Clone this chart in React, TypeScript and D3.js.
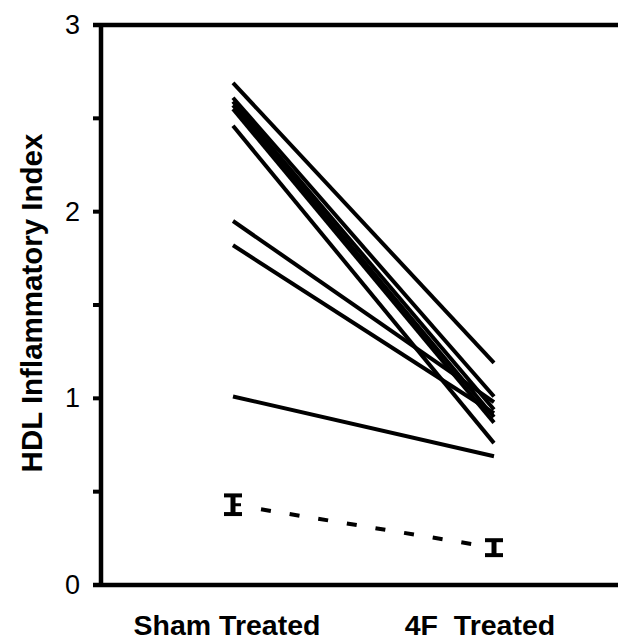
import React from "react";
import * as d3 from "d3";

// Paired HDL inflammatory index per subject: sham vs 4F treatment
const groups = ["Sham Treated", "4F  Treated"];
const shamValues = [2.69, 2.61, 2.59, 2.57, 2.55, 2.46, 1.95, 1.82, 1.01];
const treatedValues = [1.19, 1.01, 0.94, 0.9, 0.87, 0.76, 0.98, 0.92, 0.69];

// Group means with error (SEM)
const meanValues = [0.43, 0.2];
const errorValues = [0.05, 0.04];

const yTickLabels = [0, 1, 2, 3];
const yMinorTicks = [0, 0.5, 1, 1.5, 2, 2.5, 3];

const W = 618;
const H = 641;
const axisX = 101;
const FONT = "'Liberation Sans', Arial, Helvetica, sans-serif";

export default function App() {
  const y = d3.scaleLinear().domain([0, 3]).range([585, 25]);
  const x = d3.scalePoint<string>().domain(groups).range([233, 494]);

  const line = d3
    .line<[string, number]>()
    .x((d) => x(d[0]) as number)
    .y((d) => y(d[1]));

  const pairs = shamValues.map((s, i) => [
    [groups[0], s],
    [groups[1], treatedValues[i]],
  ] as [string, number][]);

  // dashed line between means, kept clear of the error bars
  const x0 = x(groups[0]) as number;
  const x1 = x(groups[1]) as number;
  const t0 = 28 / (x1 - x0);
  const t1 = 1 - 21 / (x1 - x0);
  const interp = d3.interpolateNumber(y(meanValues[0]), y(meanValues[1]));
  const xi = d3.interpolateNumber(x0, x1);

  return (
    <svg
      width={W}
      height={H}
      style={{ position: "absolute", left: 0, top: 0, background: "#fff" }}
    >
      {/* frame */}
      <line x1={93} x2={W} y1={y(3)} y2={y(3)} stroke="#000" strokeWidth={4.5} />
      <line x1={93} x2={W} y1={y(0)} y2={y(0)} stroke="#000" strokeWidth={4.5} />
      <line x1={axisX} x2={axisX} y1={y(3)} y2={y(0)} stroke="#000" strokeWidth={4.5} />
      {yMinorTicks.map((t) => (
        <line key={t} x1={93} x2={axisX} y1={y(t)} y2={y(t)} stroke="#000" strokeWidth={4} />
      ))}
      {yTickLabels.map((t) => (
        <text
          key={t}
          x={80}
          y={y(t)}
          textAnchor="end"
          dominantBaseline="central"
          fontFamily={FONT}
          fontSize={27}
          fill="#000"
        >
          {t}
        </text>
      ))}
      <text
        transform={`translate(31,${y(1.5) - 2}) rotate(-90)`}
        textAnchor="middle"
        dominantBaseline="central"
        fontFamily={FONT}
        fontWeight="bold"
        fontSize={29.5}
        fill="#000"
      >
        HDL Inflammatory Index
      </text>
      {groups.map((g, i) => (
        <text
          key={g}
          x={(x(g) as number) - (i === 0 ? 6 : 14)}
          y={635}
          textAnchor="middle"
          fontFamily={FONT}
          fontWeight="bold"
          fontSize={28.5}
          fill="#000"
          style={{ whiteSpace: "pre" }}
        >
          {g}
        </text>
      ))}

      {/* individual subjects */}
      {pairs.map((p, i) => (
        <path key={i} d={line(p) || ""} fill="none" stroke="#000" strokeWidth={4} />
      ))}

      {/* mean trend */}
      <line
        x1={xi(t0)}
        y1={interp(t0)}
        x2={xi(t1)}
        y2={interp(t1)}
        stroke="#000"
        strokeWidth={4}
        strokeDasharray="10 19"
      />
      {groups.map((g, i) => {
        const cx = x(g) as number;
        const top = y(meanValues[i] + errorValues[i]);
        const bot = y(meanValues[i] - errorValues[i]);
        return (
          <g key={g}>
            <line x1={cx} x2={cx} y1={top} y2={bot} stroke="#000" strokeWidth={5} />
            <line x1={cx - 9} x2={cx + 9} y1={top} y2={top} stroke="#000" strokeWidth={4} />
            <line x1={cx - 9} x2={cx + 9} y1={bot} y2={bot} stroke="#000" strokeWidth={4} />
            {i === 0 && (
              <line
                x1={cx}
                x2={cx + 8}
                y1={y(meanValues[i])}
                y2={y(meanValues[i])}
                stroke="#000"
                strokeWidth={3}
              />
            )}
          </g>
        );
      })}
    </svg>
  );
}
